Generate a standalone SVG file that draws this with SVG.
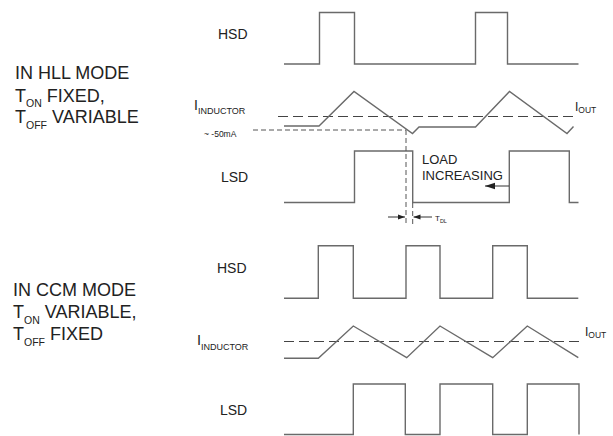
<svg xmlns="http://www.w3.org/2000/svg" width="613" height="436" viewBox="0 0 613 436">
<style>
text{font-family:"Liberation Sans",Arial,sans-serif;fill:#222}
.big{font-size:18px}
.sub{font-size:10.5px}
.sig{font-size:14px}
.wave{fill:none;stroke:#6a6a6a;stroke-width:1.4}
.iout{fill:none;stroke:#444;stroke-width:1.2;stroke-dasharray:10 5}
.ref{fill:none;stroke:#555;stroke-width:1;stroke-dasharray:5 3}
.arr{fill:none;stroke:#333;stroke-width:1}
</style>
<defs>
<marker id="ah" markerUnits="userSpaceOnUse" markerWidth="10" markerHeight="8" refX="10" refY="4" orient="auto"><path d="M0,0.8 L10,4 L0,7.2 Z" fill="#222"/></marker>
<marker id="ahs" markerUnits="userSpaceOnUse" markerWidth="7" markerHeight="6" refX="7" refY="3" orient="auto"><path d="M0,0.5 L7,3 L0,5.5 Z" fill="#222"/></marker>
</defs>
<rect width="613" height="436" fill="#fff"/>

<g id="hll-title">
<text class="big" x="15" y="79">IN HLL MODE</text>
<text class="big" x="15" y="101.5">T<tspan class="sub" dy="5.5">ON</tspan><tspan dy="-5.5"> FIXED,</tspan></text>
<text class="big" x="15" y="123">T<tspan class="sub" dy="5.5">OFF</tspan><tspan dy="-5.5"> VARIABLE</tspan></text>
</g>

<g id="ccm-title">
<text class="big" x="13" y="296">IN CCM MODE</text>
<text class="big" x="13" y="318">T<tspan class="sub" dy="5.5">ON</tspan><tspan dy="-5.5"> VARIABLE,</tspan></text>
<text class="big" x="13" y="340">T<tspan class="sub" dy="5.5">OFF</tspan><tspan dy="-5.5"> FIXED</tspan></text>
</g>

<g id="hll-hsd">
<text class="sig" x="218" y="39">HSD</text>
<path class="wave" d="M284,64 H319.5 V12.5 H354.5 V64 H475.5 V12.5 H507.5 V64 H578.5"/>
</g>

<g id="hll-inductor">
<text x="194" y="110" font-size="14">I<tspan font-size="9" dy="4">INDUCTOR</tspan></text>
<text x="204" y="136.5" font-size="8.5">~ -50mA</text>
<path class="iout" d="M278,116.5 H577"/>
<text x="575" y="111" font-size="12">I<tspan font-size="8.5" dy="2">OUT</tspan></text>
<path class="ref" d="M253,130 H406"/>
<path class="wave" d="M284,126 H319 L354,91.5 L412.5,133.5 L419,127 H475.5 L509.5,91.5 L567,133.5 L573.5,126.5"/>
</g>

<g id="hll-lsd">
<text class="sig" x="221" y="181.5">LSD</text>
<path class="wave" d="M284,202.5 H354.5 V151 H412.7 V202.5 H509.3 V151 H569.3 V202.5 H578.5"/>
<text x="422" y="164" font-size="13">LOAD</text>
<text x="422" y="180" font-size="13">INCREASING</text>
</g>

<g id="ccm-hsd">
<text class="sig" x="217" y="272.5">HSD</text>
<path class="wave" d="M284,298.3 H318.3 V245.7 H353.3 V298.3 H406 V245.7 H440 V298.3 H492.7 V245.7 H527.3 V298.3 H578.3"/>
</g>

<g id="ccm-inductor">
<text x="197" y="345" font-size="14.5">I<tspan font-size="9" dy="4.5">INDUCTOR</tspan></text>
<path class="iout" d="M284,341.5 H582"/>
<text x="585" y="336" font-size="12">I<tspan font-size="8.5" dy="2">OUT</tspan></text>
<path class="wave" d="M284,358.3 H318.3 L353.3,326 L406.7,357.7 L440,326 L492.7,357.7 L527.3,326 L578.3,357.7"/>
</g>

<g id="ccm-lsd">
<text class="sig" x="220" y="415">LSD</text>
<path class="wave" d="M284,434.5 H353.3 V384 H405.3 V434.5 H440 V384 H492.7 V434.5 H527.3 V384 H579 V434.5"/>
</g>

<g id="connectors">
<path class="ref" d="M406,130 V224"/>
<path class="ref" d="M412.7,203 V224"/>
<path class="arr" d="M509,186 H485" marker-end="url(#ah)"/>
<path class="arr" d="M388,217 H405" marker-end="url(#ahs)"/>
<path class="arr" d="M432,217 H413.5" marker-end="url(#ahs)"/>
<text x="435" y="221" font-size="8">T<tspan font-size="5.5" dy="1.5">DL</tspan></text>
</g>
</svg>
